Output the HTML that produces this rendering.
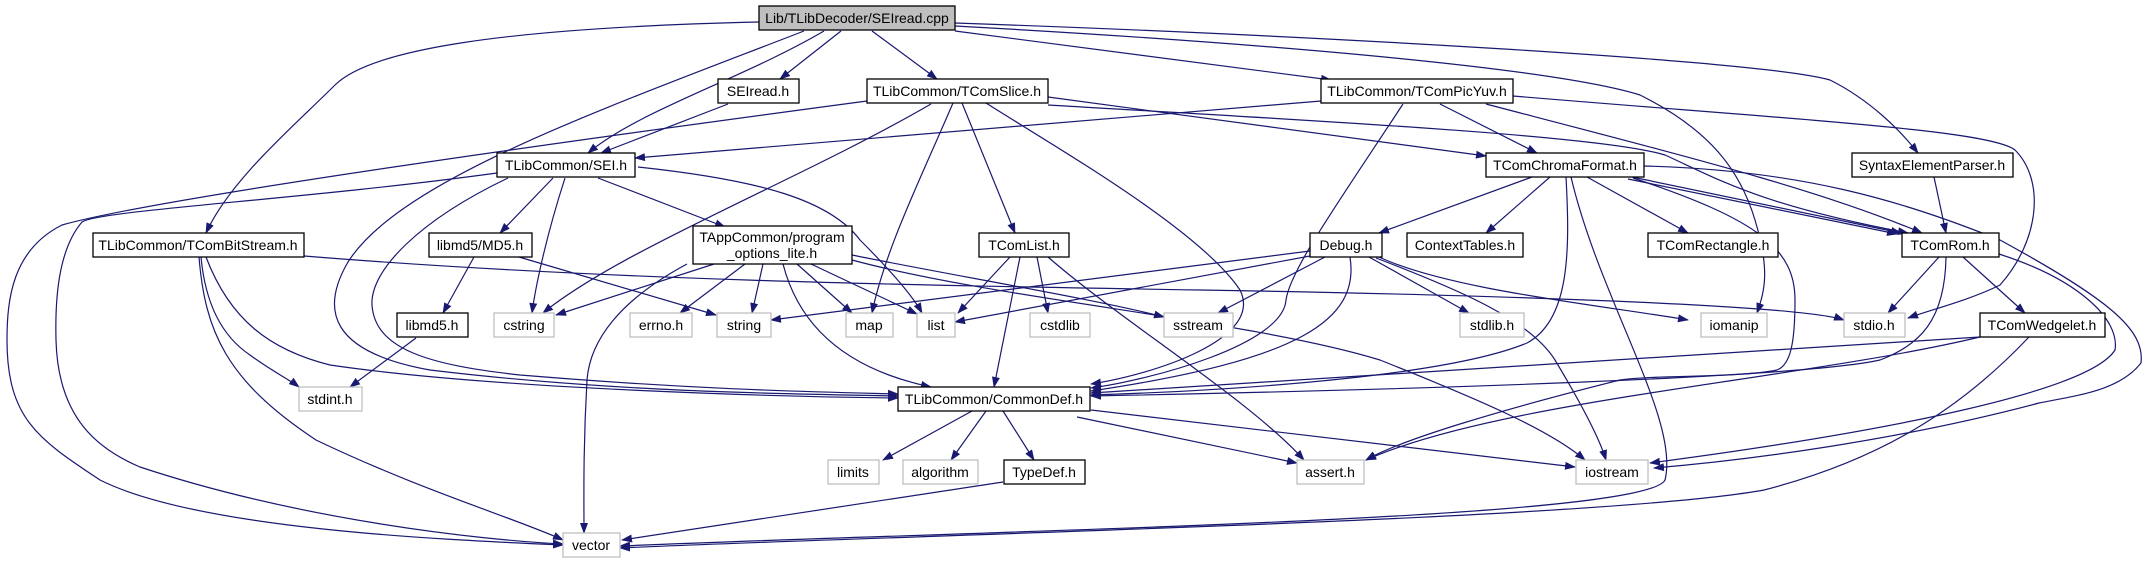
<!DOCTYPE html>
<html><head><meta charset="utf-8"><style>
html,body{margin:0;padding:0;background:#fff;}
svg{display:block;}
text{font-family:"Liberation Sans",Arial,sans-serif;font-size:14px;fill:#000;}
.b{fill:#fff;stroke:#000;stroke-width:1.3;}
.g{fill:#fff;stroke:#bfbfbf;stroke-width:1.3;}
.r{fill:#bfbfbf;stroke:#000;stroke-width:1.3;}
.e{fill:none;stroke:#191970;stroke-width:1.2;marker-end:url(#a);}
</style></head><body>
<svg width="2154" height="563" viewBox="0 0 2154 563" xmlns="http://www.w3.org/2000/svg">
<defs><marker id="a" markerUnits="userSpaceOnUse" markerWidth="11" markerHeight="8" refX="10" refY="4" orient="auto"><path d="M0,0 L11,4 L0,8 z" fill="#191970"/></marker></defs>
<g>
<!-- root edges -->
<path class="e" d="M759,22 C500,28 370,50 335,85 C295,125 230,180 206,233"/>
<path class="e" d="M804,31 C600,110 400,180 348,262 C320,310 330,352 430,370 C620,393 800,394 898,396"/>
<path class="e" d="M824,31 C740,80 640,110 588,153"/>
<path class="e" d="M841,31 L780,79"/>
<path class="e" d="M872,31 L937,79"/>
<path class="e" d="M955,31 L1331,80"/>
<path class="e" d="M955,23 C1300,35 1760,60 1830,80 C1870,100 1900,130 1918,153"/>
<path class="e" d="M955,26 C1300,45 1560,70 1640,95 C1710,130 1740,170 1755,220 C1770,270 1765,290 1757,313"/>
<path class="e" d="M728,104 L601,153"/>
<!-- TComSlice -->
<path class="e" d="M867,101 C500,150 150,200 62,225 C12,250 7,300 7,340 C7,420 40,440 100,480 C200,530 450,540 563,545"/>
<path class="e" d="M931,104 C800,180 620,250 543,313"/>
<path class="e" d="M953,103 C920,180 885,250 872,313"/>
<path class="e" d="M962,103 L1015,233"/>
<path class="e" d="M986,103 C1060,150 1200,230 1240,290 C1265,340 1150,375 1091,384"/>
<path class="e" d="M1048,97 L1486,156"/>
<path class="e" d="M1048,105 C1300,120 1600,135 1665,155 C1720,180 1760,205 1908,233"/>
<!-- TComPicYuv -->
<path class="e" d="M1321,101 L635,158"/>
<path class="e" d="M1403,104 C1340,200 1290,270 1286,300 C1283,345 1150,380 1091,388"/>
<path class="e" d="M1440,104 L1537,153"/>
<path class="e" d="M1486,104 C1700,160 1820,190 1922,233"/>
<path class="e" d="M1513,96 C1800,120 1990,130 2015,150 C2045,180 2040,240 2000,285 C1970,300 1930,310 1908,318"/>
<!-- SEI.h -->
<path class="e" d="M497,173 C300,200 100,210 82,222 C58,250 55,300 56,340 C58,420 100,450 140,467 C300,520 480,540 563,544"/>
<path class="e" d="M508,178 C420,220 370,270 372,305 C375,350 430,365 520,375 C700,390 820,392 898,394"/>
<path class="e" d="M553,178 L500,233"/>
<path class="e" d="M565,178 C545,240 535,290 532,313"/>
<path class="e" d="M598,178 L725,227"/>
<path class="e" d="M638,167 C760,180 830,200 860,240 C900,280 915,300 922,313"/>
<!-- BitStream -->
<path class="e" d="M304,256 C600,280 900,285 1200,290 C1500,295 1800,305 1844,320"/>
<path class="e" d="M201,257 C205,300 220,335 250,355 C270,370 290,380 299,387"/>
<path class="e" d="M199,257 C205,330 225,380 316,440 C420,490 520,520 563,540"/>
<path class="e" d="M206,257 C230,320 270,350 330,365 C500,390 800,397 898,398"/>
<!-- MD5 -->
<path class="e" d="M474,257 L443,313"/>
<path class="e" d="M519,257 L716,315"/>
<!-- program_options -->
<path class="e" d="M714,264 L556,315"/>
<path class="e" d="M687,264 C620,300 590,340 587,380 C583,450 584,500 584,533"/>
<path class="e" d="M745,264 L680,313"/>
<path class="e" d="M763,264 L752,313"/>
<path class="e" d="M783,264 C800,330 850,370 931,387"/>
<path class="e" d="M797,264 L852,313"/>
<path class="e" d="M811,264 L917,314"/>
<path class="e" d="M852,255 C950,275 1100,300 1164,317"/>
<path class="e" d="M852,260 C1000,300 1250,320 1380,360 C1480,400 1550,430 1585,460"/>
<!-- TComList -->
<path class="e" d="M1010,257 L958,313"/>
<path class="e" d="M1037,257 L1048,313"/>
<path class="e" d="M1020,257 L994,387"/>
<path class="e" d="M1048,257 C1120,320 1250,400 1304,460"/>
<!-- Debug -->
<path class="e" d="M1310,251 L771,320"/>
<path class="e" d="M1310,256 L955,322"/>
<path class="e" d="M1325,257 L1218,313"/>
<path class="e" d="M1350,257 C1360,320 1300,360 1091,391"/>
<path class="e" d="M1369,257 L1469,313"/>
<path class="e" d="M1379,257 C1450,290 1600,305 1688,320"/>
<path class="e" d="M1376,258 C1460,290 1530,320 1555,360 C1585,410 1600,440 1606,460"/>
<!-- ChromaFormat -->
<path class="e" d="M1532,177 L1379,233"/>
<path class="e" d="M1550,177 L1486,233"/>
<path class="e" d="M1587,177 L1688,233"/>
<path class="e" d="M1632,177 L1901,233"/>
<path class="e" d="M1628,179 L1897,234"/>
<path class="e" d="M1566,177 C1570,250 1570,320 1527,343 C1450,375 1250,390 1091,395"/>
<path class="e" d="M1571,177 C1600,300 1680,420 1665,480 C1645,520 1000,530 620,546"/>
<path class="e" d="M1633,178 C1760,220 1795,250 1795,300 C1795,345 1790,365 1777,370 C1740,378 1650,375 1620,380 C1500,410 1400,440 1366,460"/>
<path class="e" d="M1644,166 C1800,170 1900,200 2000,240 C2110,300 2145,330 2141,363 C2120,390 2080,395 2039,403 C1900,440 1750,460 1654,468"/>
<!-- SyntaxElementParser -->
<path class="e" d="M1934,177 L1946,233"/>
<!-- TComRom -->
<path class="e" d="M1939,257 L1888,313"/>
<path class="e" d="M1963,257 L2025,313"/>
<path class="e" d="M1946,257 C1945,320 1920,345 1880,360 C1800,378 1400,390 1091,396"/>
<path class="e" d="M1999,254 C2080,280 2120,320 2115,350 C2090,390 1900,430 1650,463"/>
<!-- TComWedgelet -->
<path class="e" d="M1980,337 L1091,393"/>
<path class="e" d="M1980,337 C1800,380 1500,400 1366,460"/>
<path class="e" d="M2029,337 C1960,410 1880,460 1764,490 C1600,520 900,535 620,548"/>
<!-- CommonDef -->
<path class="e" d="M972,411 L883,460"/>
<path class="e" d="M986,411 L951,460"/>
<path class="e" d="M1003,411 L1034,460"/>
<path class="e" d="M1077,417 L1297,463"/>
<path class="e" d="M1091,410 L1575,467"/>
<path class="e" d="M1003,482 L622,540"/>
<path class="e" d="M416,338 L350,387"/>
</g>
<g>
<rect class="r" x="759" y="6" width="196" height="24"/><text x="857" y="23" text-anchor="middle">Lib/TLibDecoder/SEIread.cpp</text>
<rect class="b" x="718" y="79" width="81" height="24"/><text x="758" y="96" text-anchor="middle">SEIread.h</text>
<rect class="b" x="867" y="79" width="181" height="24"/><text x="957" y="96" text-anchor="middle">TLibCommon/TComSlice.h</text>
<rect class="b" x="1321" y="79" width="192" height="24"/><text x="1417" y="96" text-anchor="middle">TLibCommon/TComPicYuv.h</text>
<rect class="b" x="497" y="153" width="138" height="24"/><text x="566" y="170" text-anchor="middle">TLibCommon/SEI.h</text>
<rect class="b" x="1486" y="153" width="158" height="24"/><text x="1565" y="170" text-anchor="middle">TComChromaFormat.h</text>
<rect class="b" x="1852" y="153" width="161" height="24"/><text x="1932" y="170" text-anchor="middle">SyntaxElementParser.h</text>
<rect class="b" x="93" y="233" width="211" height="24"/><text x="198" y="250" text-anchor="middle">TLibCommon/TComBitStream.h</text>
<rect class="b" x="429" y="233" width="103" height="24"/><text x="480" y="250" text-anchor="middle">libmd5/MD5.h</text>
<rect class="b" x="693" y="226" width="159" height="38"/><text x="772" y="242" text-anchor="middle">TAppCommon/program</text><text x="772" y="258" text-anchor="middle">_options_lite.h</text>
<rect class="b" x="979" y="233" width="90" height="24"/><text x="1024" y="250" text-anchor="middle">TComList.h</text>
<rect class="b" x="1310" y="233" width="72" height="24"/><text x="1346" y="250" text-anchor="middle">Debug.h</text>
<rect class="b" x="1407" y="233" width="116" height="24"/><text x="1465" y="250" text-anchor="middle">ContextTables.h</text>
<rect class="b" x="1648" y="233" width="130" height="24"/><text x="1713" y="250" text-anchor="middle">TComRectangle.h</text>
<rect class="b" x="1902" y="233" width="97" height="24"/><text x="1950" y="250" text-anchor="middle">TComRom.h</text>
<rect class="b" x="397" y="313" width="71" height="24"/><text x="432" y="330" text-anchor="middle">libmd5.h</text>
<rect class="g" x="494" y="313" width="60" height="24"/><text x="524" y="330" text-anchor="middle">cstring</text>
<rect class="g" x="630" y="313" width="62" height="24"/><text x="661" y="330" text-anchor="middle">errno.h</text>
<rect class="g" x="717" y="313" width="54" height="24"/><text x="744" y="330" text-anchor="middle">string</text>
<rect class="g" x="846" y="313" width="47" height="24"/><text x="869" y="330" text-anchor="middle">map</text>
<rect class="g" x="917" y="313" width="38" height="24"/><text x="936" y="330" text-anchor="middle">list</text>
<rect class="g" x="1030" y="313" width="60" height="24"/><text x="1060" y="330" text-anchor="middle">cstdlib</text>
<rect class="g" x="1164" y="313" width="69" height="24"/><text x="1198" y="330" text-anchor="middle">sstream</text>
<rect class="g" x="1460" y="313" width="64" height="24"/><text x="1492" y="330" text-anchor="middle">stdlib.h</text>
<rect class="g" x="1701" y="313" width="66" height="24"/><text x="1734" y="330" text-anchor="middle">iomanip</text>
<rect class="g" x="1844" y="313" width="61" height="24"/><text x="1874" y="330" text-anchor="middle">stdio.h</text>
<rect class="b" x="1980" y="313" width="125" height="24"/><text x="2042" y="330" text-anchor="middle">TComWedgelet.h</text>
<rect class="g" x="299" y="387" width="63" height="24"/><text x="330" y="404" text-anchor="middle">stdint.h</text>
<rect class="b" x="898" y="387" width="192" height="24"/><text x="994" y="404" text-anchor="middle">TLibCommon/CommonDef.h</text>
<rect class="g" x="828" y="460" width="51" height="24"/><text x="853" y="477" text-anchor="middle">limits</text>
<rect class="g" x="903" y="460" width="75" height="24"/><text x="940" y="477" text-anchor="middle">algorithm</text>
<rect class="b" x="1004" y="460" width="81" height="24"/><text x="1044" y="477" text-anchor="middle">TypeDef.h</text>
<rect class="g" x="1297" y="460" width="67" height="24"/><text x="1330" y="477" text-anchor="middle">assert.h</text>
<rect class="g" x="1576" y="460" width="72" height="24"/><text x="1612" y="477" text-anchor="middle">iostream</text>
<rect class="g" x="563" y="533" width="57" height="24"/><text x="591" y="550" text-anchor="middle">vector</text>
</g>
</svg>
</body></html>
